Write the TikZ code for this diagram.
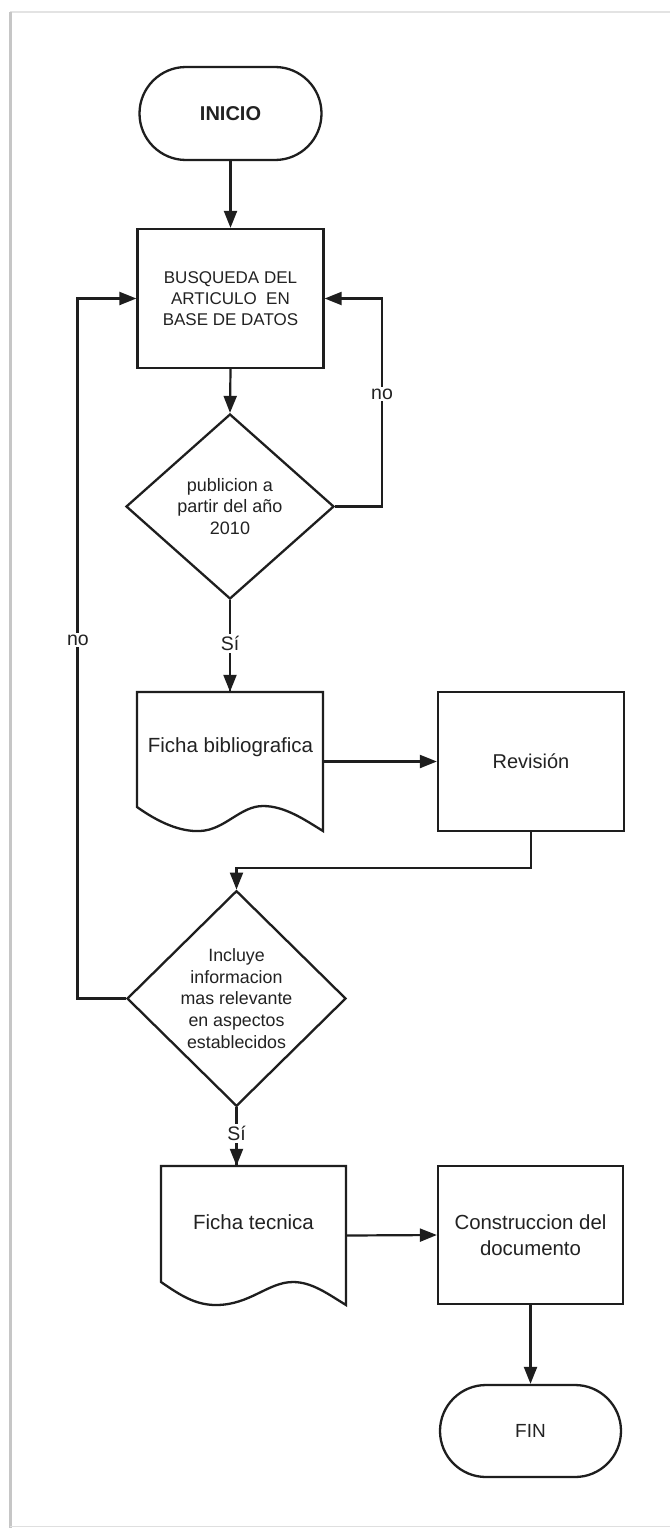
\documentclass[tikz,border=0pt]{standalone}
\usepackage{fontspec}
\setmainfont{Liberation Sans}
\usetikzlibrary{shapes.geometric,shapes.misc,arrows.meta,calc}
\definecolor{ink}{HTML}{1E1E1E}
\definecolor{txt}{HTML}{222222}
\begin{document}
\begin{tikzpicture}[x=1pt,y=-1pt,
  every node/.style={text=txt},
  base/.style={draw=ink,line width=2.3pt,inner sep=2pt,align=center},
  terminal/.style={base,rounded rectangle,minimum width=186pt,minimum height=93pt},
  procbox/.style={base,rectangle,minimum width=186pt,minimum height=139pt},
  decision/.style={base,diamond,inner sep=1pt},
  docarea/.style={rectangle,draw=none,minimum width=186pt,minimum height=139pt},
  docline/.style={draw=ink,line width=2.3pt,line join=miter},
  conn/.style={draw=ink,line width=2.2pt,-{Triangle[length=17pt,width=13pt]}},
  plain/.style={draw=ink,line width=2.2pt},
  lbl/.style={fill=white,inner sep=2pt,font=\fontsize{19.5}{22}\selectfont}
]
% page and frame
\path[fill=white] (0,0) rectangle (670,1528);
\useasboundingbox (0,0) rectangle (670,1528);
\draw[gray!22,line width=1.5pt] (10,12) -- (670,12);
\draw[gray!45,line width=2.5pt] (10.5,12) -- (10.5,1528);
\draw[gray!25,line width=1.5pt] (10,1526.5) -- (670,1526.5);

% nodes
\node[terminal,font=\fontsize{20}{24}\selectfont\bfseries] (ini) at (230.5,113.5) {INICIO};
\node[procbox,font=\fontsize{17}{21}\selectfont] (bus) at (230.5,298.5)
  {BUSQUEDA DEL\\ARTICULO\ \ EN\\BASE DE DATOS};
\node[decision,minimum width=208pt,minimum height=185pt,font=\fontsize{18}{21.5}\selectfont] (d1) at (230,506.5)
  {publicion a\\partir del año\\2010};

% Ficha bibliografica (document shape)
\node[docarea] (fb) at (230,761.5) {};
\path[docline] (137,807) -- (137,692) -- (323,692) -- (323,831)
  .. controls (305,820) and (285,806) .. (263,806)
  .. controls (240,806) and (225,830) .. (200,831)
  .. controls (180,832) and (158,822) .. (137,807) -- cycle;
\node[font=\fontsize{20.5}{24}\selectfont] (fbt) at (230.5,747) {Ficha bibliografica};

\node[procbox,font=\fontsize{20}{24}\selectfont] (rev) at (531,761.5) {Revisión};

\node[decision,minimum width=219pt,minimum height=185pt,font=\fontsize{17.8}{21.7}\selectfont] (d2) at (236.5,998.5)
  {Incluye\\informacion\\mas relevante\\en aspectos\\establecidos};

% Ficha tecnica (document shape)
\node[docarea] (ft) at (253.5,1235.5) {};
\path[docline] (161,1282) -- (161,1166) -- (346,1166) -- (346,1305)
  .. controls (328,1294) and (312,1282) .. (293,1282)
  .. controls (268,1282) and (250,1305) .. (216,1305)
  .. controls (195,1305) and (180,1295) .. (161,1282) -- cycle;
\node[font=\fontsize{20.5}{24}\selectfont] (ftt) at (253.5,1222) {Ficha tecnica};

\node[procbox,minimum width=185pt,minimum height=138pt,font=\fontsize{20.4}{26}\selectfont] (con) at (530.5,1235)
  {Construccion del\\documento};
\node[terminal,minimum width=185pt,minimum height=92pt,font=\fontsize{19}{23}\selectfont] (fin) at (530.5,1431) {FIN};

% connectors
\draw[conn] (ini.south) -- (bus.north);
\draw[conn] (bus.south) -- (d1.north);
\draw[plain] (d1.south) -- (d1.south |- fb.north) node[lbl,pos=0.47] (si1) {Sí};
\draw[conn] (si1.south) -- (d1.south |- fb.north);
\coordinate (r1) at (382,506.5);
\coordinate (r2) at (382,298.5);
\draw[conn] (d1.east) -- (r1) -- (r2) -- (bus.east);
\node[lbl] (no1) at (382,394) {no};
\draw[conn] (fb.east) -- (rev.west);
\coordinate (c1) at (531,868);
\coordinate (c2) at (236.5,868);
\draw[conn] (rev.south) -- (c1) -- (c2) -- (d2.north);
\coordinate (l1) at (77.5,998.5);
\coordinate (l2) at (77.5,298.5);
\draw[conn] (d2.west) -- (l1) -- (l2) -- (bus.west);
\node[lbl] (no2) at (78,640) {no};
\draw[plain] (d2.south) -- (d2.south |- ft.north) node[lbl,pos=0.45] (si2) {Sí};
\draw[conn] (si2.south) -- (d2.south |- ft.north);
\draw[conn] (ft.east) -- (con.west);
\draw[conn] (con.south) -- (fin.north);
\end{tikzpicture}
\end{document}
